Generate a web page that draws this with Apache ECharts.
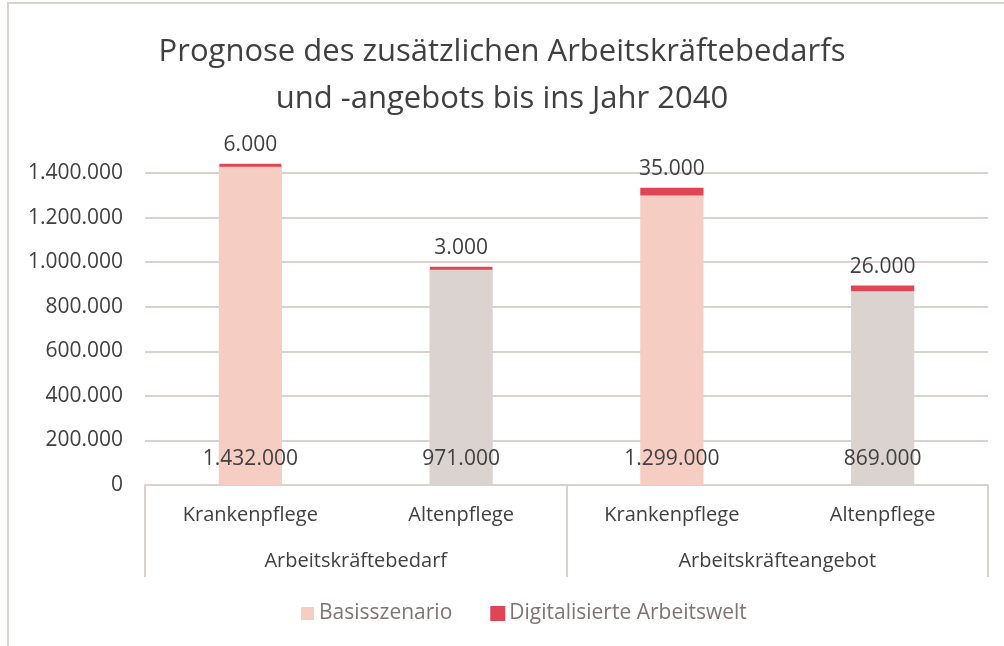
<!DOCTYPE html>
<html>
<head>
<meta charset="utf-8">
<script src="https://cdn.jsdelivr.net/npm/echarts@6/dist/echarts.min.js"></script>
<style>
  html, body { margin: 0; padding: 0; background: #fff; }
  #chart { width: 1004px; height: 646px; }
</style>
</head>
<body>
<div id="chart"></div>
<script>
var berufe = ['Krankenpflege', 'Altenpflege', 'Krankenpflege', 'Altenpflege'];
var gruppen = ['Arbeitskräftebedarf', 'Arbeitskräfteangebot'];
var basis = [1432000, 971000, 1299000, 869000];
var digital = [6000, 3000, 35000, 26000];
var yTicks = [0, 200000, 400000, 600000, 800000, 1000000, 1200000, 1400000];

function fmt(v) {
  return String(v).replace(/\B(?=(\d{3})+(?!\d))/g, '.');
}

var chart = echarts.init(document.getElementById('chart'));
var font = 'Open Sans';

chart.setOption({
  animation: false,
  textStyle: { fontFamily: font },
  title: {
    text: 'Prognose des zusätzlichen Arbeitskräftebedarfs\nund -angebots bis ins Jahr 2040',
    left: 'center',
    top: 24,
    textStyle: { fontSize: 31, fontWeight: 'normal', color: '#404040', lineHeight: 47, fontFamily: font }
  },
  legend: {
    bottom: 17,
    left: 296,
    itemWidth: 13,
    itemHeight: 13,
    itemGap: 38,
    icon: 'rect',
    textStyle: { fontSize: 21, color: '#7f7373', fontFamily: font },
    data: ['Basisszenario', 'Digitalisierte Arbeitswelt']
  },
  grid: { left: 145, right: 16, top: 173, bottom: 161, containLabel: false },
  graphic: [{
    type: 'rect',
    shape: { x: 8, y: 3, width: 1100, height: 700 },
    style: { fill: 'none', stroke: '#d9d2cf', lineWidth: 2 },
    silent: true
  }],
  xAxis: [{
    type: 'category',
    data: berufe,
    position: 'bottom',
    axisLine: { show: false },
    axisTick: { show: false },
    axisLabel: { margin: 20, fontSize: 20, color: '#404040', fontFamily: font }
  }, {
    type: 'category',
    data: gruppen,
    position: 'bottom',
    axisLine: { show: true, lineStyle: { color: '#d9d2cf', width: 2 } },
    axisTick: { show: true, length: 92, lineStyle: { color: '#d9d2cf', width: 2 } },
    axisLabel: { margin: 66, fontSize: 20, color: '#404040', fontFamily: font }
  }],
  yAxis: {
    type: 'value',
    min: yTicks[0],
    max: yTicks[yTicks.length - 1],
    interval: 200000,
    axisLine: { show: false },
    axisTick: { show: false },
    splitLine: { lineStyle: { color: '#d9d2cf', width: 2 } },
    axisLabel: { fontSize: 21, color: '#404040', margin: 22, fontFamily: font, formatter: function (v) { return fmt(v); } }
  },
  series: [{
    name: 'Basisszenario',
    type: 'bar',
    stack: 'total',
    xAxisIndex: 0,
    barWidth: '30%',
    clip: false,
    itemStyle: { color: '#f5cdc3' },
    data: basis.map(function (v, i) {
      return { value: v, itemStyle: { color: i % 2 === 0 ? '#f5cdc3' : '#dbd3d0' } };
    }),
    label: {
      show: true,
      position: 'insideBottom',
      distance: 15,
      fontSize: 21,
      color: '#404040',
      fontFamily: font,
      formatter: function (p) { return fmt(p.value); }
    }
  }, {
    name: 'Digitalisierte Arbeitswelt',
    type: 'bar',
    stack: 'total',
    xAxisIndex: 0,
    barWidth: '30%',
    clip: false,
    itemStyle: { color: '#e04555', borderColor: '#e04555', borderWidth: 3 },
    data: digital,
    label: {
      show: true,
      position: 'top',
      distance: 8,
      fontSize: 21,
      color: '#404040',
      fontFamily: font,
      formatter: function (p) { return fmt(p.value); }
    }
  }]
});
</script>
</body>
</html>
